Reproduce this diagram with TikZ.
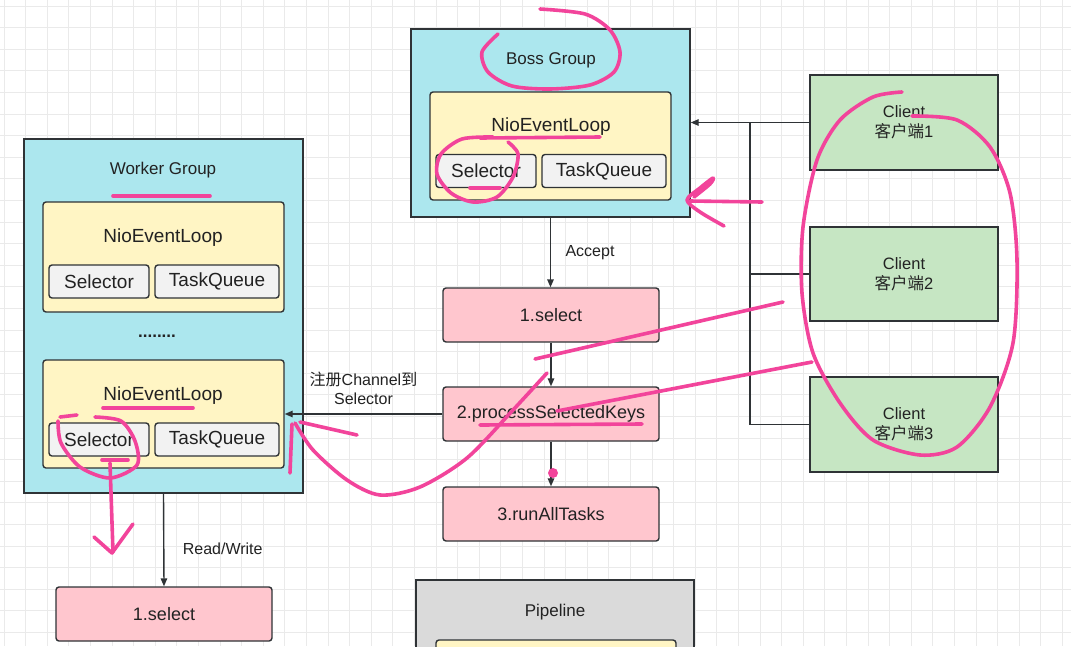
\documentclass[tikz,border=0pt]{standalone}
\usepackage{fontspec}
\setmainfont{Liberation Sans}
\newfontfamily\cjk{Noto Sans CJK SC}
\usetikzlibrary{arrows.meta}
\definecolor{linedark}{HTML}{2F3336}
\definecolor{textdark}{HTML}{222222}
\definecolor{groupcyan}{HTML}{ACE7EE}
\definecolor{loopyellow}{HTML}{FFF5C4}
\definecolor{partgray}{HTML}{F2F2F2}
\definecolor{steppink}{HTML}{FFC6CE}
\definecolor{clientgreen}{HTML}{C6E6C3}
\definecolor{pipegray}{HTML}{DADADA}
\definecolor{inkpink}{HTML}{F2449B}
\definecolor{gridgray}{HTML}{EAEAEA}

\begin{document}
\begin{tikzpicture}[x=1pt,y=-1pt,>={Triangle[length=8pt,width=6.5pt]},box/.style={draw=linedark, line width=1.4pt, inner sep=0pt, text=textdark},group/.style={box, fill=groupcyan, minimum width=279pt},evloop/.style={box, fill=loopyellow, rounded corners=3pt, minimum width=241pt},part/.style={box, fill=partgray, rounded corners=3pt, minimum height=33pt, font=\fontsize{19}{22}\selectfont},stepbox/.style={box, fill=steppink, rounded corners=3pt, minimum width=216pt, minimum height=54pt, font=\fontsize{18}{22}\selectfont},client/.style={box, fill=clientgreen, minimum width=188pt, minimum height=95pt, align=center, font=\fontsize{16.5}{20}\selectfont},title/.style={text=textdark, font=\fontsize{17}{20}\selectfont},looptitle/.style={text=textdark, font=\fontsize{19}{22}\selectfont},flow/.style={->, line width=1.4pt, draw=linedark},wire/.style={line width=1.4pt, draw=linedark},note/.style={text=textdark, font=\fontsize{16}{19}\selectfont, align=center},gridline/.style={gridgray, line width=0.8pt},scribble/.style={draw=inkpink, line width=3.6pt, line cap=round, line join=round}]
\path[use as bounding box] (0,0) rectangle (1071,646); \clip (0,0) rectangle (1071,646);
\fill[white] (0,0) rectangle (1071,646);
\foreach \gx in {4,25.6,...,1071} \draw[gridline] (\gx,0) -- (\gx,646);
\foreach \gy in {6,27.6,...,646} \draw[gridline] (0,\gy) -- (1071,\gy);
% boss group
\node[group, minimum height=188pt] (boss) at (550.5,123) {};
\node[title] (bosstitle) at (551,60) {Boss Group};
\node[evloop, minimum height=108pt] (bossloop) at (550.5,146) {};
\node[looptitle] (bosslooptitle) at (551,127) {NioEventLoop};
\node[part, minimum width=100pt] (bosssel) at (486,171) {Selector}; \node[part, minimum width=124pt] (bosstq) at (604,171) {TaskQueue};
% worker group
\node[group, minimum height=354pt] (worker) at (163.5,316) {};
\node[title] (workertitle) at (163,170) {Worker Group};
\node[evloop, minimum height=110pt] (wloopA) at (163.5,257) {};
\node[looptitle] (wloopAtitle) at (163,238) {NioEventLoop};
\node[part, minimum width=100pt] (wselA) at (99,281.5) {Selector}; \node[part, minimum width=124pt] (wtqA) at (217,281.5) {TaskQueue};
\node[title] (wdots) at (157,336) {\textbf{........}};
\node[evloop, minimum height=108pt] (wloopB) at (163.5,414) {};
\node[looptitle] (wloopBtitle) at (163,396) {NioEventLoop};
\node[part, minimum width=100pt] (wselB) at (99,439.5) {Selector}; \node[part, minimum width=124pt] (wtqB) at (217,439.5) {TaskQueue};
% event loop steps
\node[stepbox] (sel) at (551,315) {1.select};
\node[stepbox] (proc) at (551,414) {2.processSelectedKeys};
\node[stepbox] (run) at (551,514) {3.runAllTasks};
\node[stepbox] (wsel) at (164,614) {1.select};
\node[box, fill=pipegray, minimum width=278pt, minimum height=100pt] (pipe) at (555,630) {};
\node[title] (pipetitle) at (555,612) {Pipeline};
\node[box, fill=loopyellow, rounded corners=3pt, minimum width=240pt, minimum height=40pt] (pipeinner) at (556,660) {};
% clients
\node[client] (c1) at (904,122.5) {Client\\{\cjk 客户端}1};
\node[client, minimum height=94pt] (c2) at (904,274) {Client\\{\cjk 客户端}2};
\node[client] (c3) at (904,424.5) {Client\\{\cjk 客户端}3};
\coordinate (bus) at (750,122.5);
\draw[flow] (c1.west) -- (c1.west -| boss.east);
\draw[wire] (c3.west) -| (bus); \draw[wire] (c2.west) -- (c2.west -| bus);
\draw[flow] (boss.south) -- (boss.south |- sel.north) node[midway, right=11pt, note] (accept) {Accept};
\draw[flow] (sel) -- (proc); \draw[flow] (proc) -- (run);
\draw[flow] (proc.west) -- (proc.west -| wloopB.east) node[midway, above=5pt, note] (register) {{\cjk 注册}Channel{\cjk 到}\\Selector};
\draw[flow] (worker.south) -- (wsel.north) node[pos=0.6, right=15pt, note] (rw) {Read/Write};
% hand marks
\draw[scribble] plot[smooth] coordinates {(498,34) (482,52) (488,72) (512,86) (550,89) (590,85) (614,72) (620,52) (610,30) (585,14) (540,9)};
\draw[scribble] (480,138) -- (600,137);
\draw[scribble] plot[smooth] coordinates {(493,137) (462,139) (441,154) (437,174) (451,193) (473,202) (497,197) (513,177) (518,154) (508,142)};
\draw[scribble] (470,188) -- (500,188);
\draw[scribble] plot[smooth] coordinates {(724,226) (700,212) (687,200) (700,188) (713,178) (710,184) (694,197)};
\draw[scribble] (690,201) -- (762,202);
\draw[scribble] (113,196) -- (210,196);
\draw[scribble] (103,408) -- (193,408);
\draw[scribble] (60,417) -- (77,415);
\draw[scribble] plot[smooth] coordinates {(95,417) (121,421) (135,441) (137,465) (110,478) (80,467) (61,443) (58,421)};
\draw[scribble] (102,460) -- (128,460);
\draw[scribble] (110,463) -- (113,552);
\draw[scribble] (94,537) -- (112,553) -- (133,524);
\draw[scribble] plot[smooth] coordinates {(547,373) (513,410) (467,458) (420,487) (380,495) (347,480) (313,450) (295,423)};
\draw[scribble] (357,435) -- (300,422);
\draw[scribble] (290,473) -- (292,424);
\draw[scribble] (535,359) -- (783,302);
\draw[scribble] (557,411) -- (812,362);
\draw[scribble] (480,425) -- (642,424);
\fill[inkpink] (553,473) circle (5pt);
\draw[scribble] plot[smooth] coordinates {(902,92) (873,97) (840,120) (817,160) (803,227) (802,293) (813,353) (840,403) (873,440) (920,455) (957,447) (990,407) (1013,343) (1017,260) (1010,193) (990,147) (957,120) (912,116)};
\end{tikzpicture}
\end{document}
